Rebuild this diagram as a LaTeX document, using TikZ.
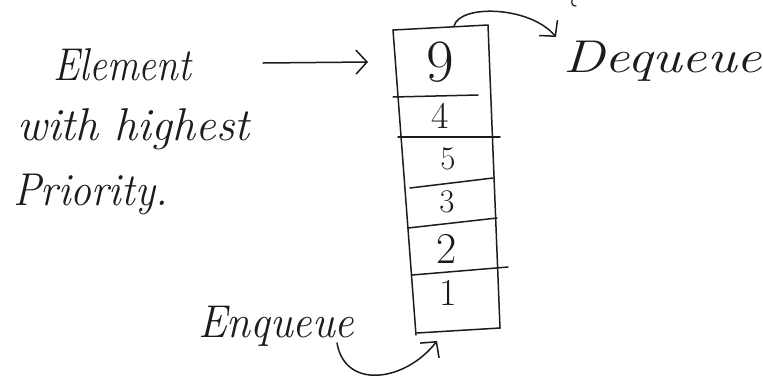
\documentclass[tikz,border=0pt]{standalone}
\usetikzlibrary{arrows.meta}
\begin{document}
\begin{tikzpicture}[x=1pt,y=-1pt,
  ink/.style={draw=inkc,line width=1.5pt,line cap=round,line join=round},
  hand/.style={text=inkc,inner sep=0pt,font=\fontsize{46}{54}\selectfont\itshape},
  digit/.style={text=inkc,inner sep=0pt},
  barb/.style={-{Straight Barb[length=11pt,width=24pt,line width=1.5pt]}}]
\definecolor{inkc}{HTML}{1C1C1C}
\useasboundingbox[fill=white] (0,0) rectangle (763,378);

% outline of the queue column
\coordinate (tl) at (393,30);
\coordinate (tr) at (488,25);
\coordinate (br) at (500,328);
\coordinate (bl) at (416,335);
\draw[ink] (tl) -- (tr) -- (br);
\draw[ink] (tl) -- (bl);
\draw[ink] (417,333) -- (br);

% separators between the stored elements
\draw[ink] (393,97) -- (478,95);
\draw[ink] (398,137) -- (500,137);
\draw[ink] (410,188) -- (493,178);
\draw[ink] (408,228) -- (497,218);
\draw[ink] (412,275) -- (508,267);

% stored elements, highest priority on top
\node[digit,font=\fontsize{60}{60}\selectfont] (c9) at (440,62) {9};
\node[digit,font=\fontsize{38}{38}\selectfont] (c4) at (440,116) {4};
\node[digit,font=\fontsize{33}{33}\selectfont] (c5) at (448,159) {5};
\node[digit,font=\fontsize{33}{33}\selectfont] (c3) at (447,202) {3};
\node[digit,font=\fontsize{44}{44}\selectfont] (c2) at (447,249) {2};
\node[digit,font=\fontsize{38}{38}\selectfont] (c1) at (448,293) {1};

% labels
\node[hand,anchor=base west,xscale=0.86] (elem) at (53,80) {Element};
\node[hand,anchor=base west,xscale=1.0] (high) at (17,140) {with highest};
\node[hand,anchor=base west,xscale=0.91] (prio) at (13,205) {Priority.};
\node[hand,anchor=base west,xscale=1.22] (deq) at (563,72) {Dequeue};
\node[hand,anchor=base west,xscale=0.94] (enq) at (198,337) {Enqueue};

% pointer to the top element
\coordinate (elemtail) at (263,63);
\coordinate (elemtip) at (368,62);
\draw[ink,barb] (elemtail) -- (elemtip);

% dequeue: removal from the top of the column
\coordinate (deqstart) at (454,26);
\coordinate (deqtip) at (556,37);
\draw[ink,barb] (deqstart) .. controls (460,4) and (530,6) .. (deqtip);

% enqueue: insertion at the bottom of the column
\coordinate (enqstart) at (337,343);
\coordinate (enqtip) at (437,341);
\draw[ink,barb] (enqstart) .. controls (345,390) and (405,382) .. (enqtip);

% small stroke at the top edge
\draw[ink,line width=1.2pt] (572,0) .. controls (571,4) and (573,6) .. (576,6);
\end{tikzpicture}
\end{document}
